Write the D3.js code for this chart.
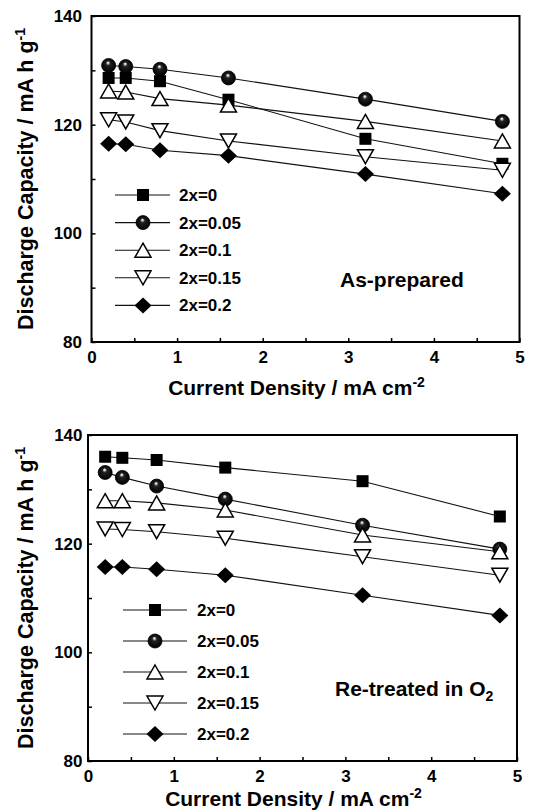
<!DOCTYPE html>
<html>
<head>
<meta charset="utf-8">
<script src="https://cdn.jsdelivr.net/npm/d3@7"></script>
<style>
  html, body { margin: 0; padding: 0; background: #fff; }
  svg { display: block; font-family: "Liberation Sans", Arial, Helvetica, sans-serif; font-weight: bold; }
</style>
</head>
<body>
<svg id="chart" width="536" height="812"></svg>
<script>
// ---------- DATA ----------
const currentDensity = [0.2, 0.4, 0.8, 1.6, 3.2, 4.8];
const seriesNames = ["2x=0", "2x=0.05", "2x=0.1", "2x=0.15", "2x=0.2"];
const seriesSymbols = ["square", "sphere", "triangleUp", "triangleDown", "diamond"];

// As-prepared
const asPrepared_0    = [128.6, 128.6, 128.0, 124.6, 117.4, 112.8];
const asPrepared_005  = [130.9, 130.7, 130.2, 128.6, 124.7, 120.6];
const asPrepared_01   = [126.2, 126.0, 124.8, 123.6, 120.6, 117.0];
const asPrepared_015  = [120.9, 120.5, 118.9, 117.0, 114.1, 111.6];
const asPrepared_02   = [116.5, 116.4, 115.3, 114.3, 110.9, 107.3];

// Re-treated in O2
const retreated_0     = [136.0, 135.8, 135.4, 134.0, 131.5, 125.0];
const retreated_005   = [133.1, 132.2, 130.6, 128.2, 123.4, 119.0];
const retreated_01    = [127.9, 127.9, 127.5, 126.2, 121.6, 118.5];
const retreated_015   = [122.7, 122.6, 122.2, 121.0, 117.6, 114.2];
const retreated_02    = [115.7, 115.7, 115.3, 114.2, 110.5, 106.8];

const xTickValues = [0, 1, 2, 3, 4, 5];
const xMinorTicks = [0.5, 1.5, 2.5, 3.5, 4.5];
const yTickValues = [80, 100, 120, 140];
const yMinorTicks = [90, 110, 130];
const xDomain = [0, 5];
const yDomain = [80, 140];

// ---------- LAYOUT ----------
const svg = d3.select("#chart");
const defs = svg.append("defs");
const grad = defs.append("radialGradient").attr("id", "sphereGrad")
  .attr("cx", "50%").attr("cy", "50%").attr("r", "50%")
  .attr("fx", "45%").attr("fy", "28%");
grad.append("stop").attr("offset", "0%").attr("stop-color", "#ffffff");
grad.append("stop").attr("offset", "12%").attr("stop-color", "#c8c8c8");
grad.append("stop").attr("offset", "32%").attr("stop-color", "#222");
grad.append("stop").attr("offset", "100%").attr("stop-color", "#000");

const panels = [
  {
    left: 91.5, right: 519.5, top: 16, bottom: 342,
    series: [asPrepared_0, asPrepared_005, asPrepared_01, asPrepared_015, asPrepared_02],
    yLabelPad: 9.5,
    legend: { x1: 115, x2: 170, xm: 143, xt: 179, y0: 195, dy: 27.6 },
    note: { x: 340, y: 287, text: "As-prepared", sub: null },
    xTitleY: 395
  },
  {
    left: 88, right: 517, top: 435, bottom: 761,
    series: [retreated_0, retreated_005, retreated_01, retreated_015, retreated_02],
    yLabelPad: 5.5,
    legend: { x1: 123, x2: 187, xm: 155, xt: 197, y0: 610, dy: 31 },
    note: { x: 335, y: 696, text: "Re-treated in O", sub: "2" },
    xTitleY: 806
  }
];

function drawSymbol(g, type, cx, cy) {
  if (type === "square") {
    g.append("rect").attr("x", cx - 6).attr("y", cy - 6).attr("width", 12).attr("height", 12)
      .attr("fill", "#000");
  } else if (type === "sphere") {
    g.append("circle").attr("cx", cx).attr("cy", cy).attr("r", 7)
      .attr("fill", "url(#sphereGrad)").attr("stroke", "#000").attr("stroke-width", 0.8);
  } else if (type === "triangleUp") {
    const w = 8, h = 7;
    g.append("path").attr("d", `M${cx},${cy - h}L${cx + w},${cy + h}L${cx - w},${cy + h}Z`)
      .attr("fill", "#fff").attr("stroke", "#000").attr("stroke-width", 1.5).attr("stroke-linejoin", "miter");
  } else if (type === "triangleDown") {
    const w = 8, h = 7;
    g.append("path").attr("d", `M${cx},${cy + h}L${cx + w},${cy - h}L${cx - w},${cy - h}Z`)
      .attr("fill", "#fff").attr("stroke", "#000").attr("stroke-width", 1.5).attr("stroke-linejoin", "miter");
  } else if (type === "diamond") {
    const w = 8.5, h = 8;
    g.append("path").attr("d", `M${cx},${cy - h}L${cx + w},${cy}L${cx},${cy + h}L${cx - w},${cy}Z`)
      .attr("fill", "#000");
  }
}

panels.forEach(p => {
  const x = d3.scaleLinear().domain(xDomain).range([p.left, p.right]);
  const y = d3.scaleLinear().domain(yDomain).range([p.bottom, p.top]);
  const g = svg.append("g");

  // x axis: labelled ticks
  const xAxis = g.append("g").attr("transform", `translate(0,${p.bottom})`)
    .call(d3.axisBottom(x).tickValues(xTickValues).tickFormat(d3.format("d"))
      .tickSizeInner(-4).tickSizeOuter(0).tickPadding(9));
  xAxis.select(".domain").remove();
  xAxis.selectAll("line").attr("stroke", "#000").attr("stroke-width", 1.5);
  xAxis.selectAll("text").attr("font-size", 17).attr("font-weight", "bold")
    .attr("font-family", "Liberation Sans, Arial, sans-serif").attr("fill", "#000");
  const xMinor = g.append("g").attr("transform", `translate(0,${p.bottom})`)
    .call(d3.axisBottom(x).tickValues(xMinorTicks).tickFormat("").tickSizeInner(-4).tickSizeOuter(0));
  xMinor.select(".domain").remove();
  xMinor.selectAll("line").attr("stroke", "#000").attr("stroke-width", 1.5);

  // y axis
  const yAxis = g.append("g").attr("transform", `translate(${p.left},0)`)
    .call(d3.axisLeft(y).tickValues(yTickValues).tickFormat(d3.format("d"))
      .tickSizeInner(-4).tickSizeOuter(0).tickPadding(p.yLabelPad));
  yAxis.select(".domain").remove();
  yAxis.selectAll("line").attr("stroke", "#000").attr("stroke-width", 1.5);
  yAxis.selectAll("text").attr("font-size", 17).attr("font-weight", "bold")
    .attr("font-family", "Liberation Sans, Arial, sans-serif").attr("fill", "#000");
  const yMinor = g.append("g").attr("transform", `translate(${p.left},0)`)
    .call(d3.axisLeft(y).tickValues(yMinorTicks).tickFormat("").tickSizeInner(-4).tickSizeOuter(0));
  yMinor.select(".domain").remove();
  yMinor.selectAll("line").attr("stroke", "#000").attr("stroke-width", 1.5);

  // frame
  g.append("rect").attr("x", p.left).attr("y", p.top)
    .attr("width", p.right - p.left).attr("height", p.bottom - p.top)
    .attr("fill", "none").attr("stroke", "#000").attr("stroke-width", 2);

  // lines
  const line = d3.line().x((d, i) => x(currentDensity[i])).y(d => y(d));
  p.series.forEach(s => {
    g.append("path").datum(s).attr("d", line)
      .attr("fill", "none").attr("stroke", "#111").attr("stroke-width", 1.1);
  });
  // markers
  p.series.forEach((s, k) => {
    const mg = g.append("g");
    s.forEach((v, i) => drawSymbol(mg, seriesSymbols[k], x(currentDensity[i]), y(v)));
  });

  // legend
  const L = p.legend;
  seriesNames.forEach((name, k) => {
    const ly = L.y0 + k * L.dy;
    const lg = g.append("g");
    lg.append("line").attr("x1", L.x1).attr("x2", L.x2).attr("y1", ly).attr("y2", ly)
      .attr("stroke", "#111").attr("stroke-width", 1.1);
    drawSymbol(lg, seriesSymbols[k], L.xm, ly);
    lg.append("text").attr("x", L.xt).attr("y", ly + 6).attr("font-size", 17)
      .attr("fill", "#000").text(name);
  });

  // note
  const nt = g.append("text").attr("x", p.note.x).attr("y", p.note.y)
    .attr("font-size", 21).attr("fill", "#000").text(p.note.text);
  if (p.note.sub) {
    nt.append("tspan").attr("dy", 5).attr("font-size", 14).text(p.note.sub);
  }

  // x title
  const xt = g.append("text").attr("x", (p.left + p.right) / 2 - 9).attr("y", p.xTitleY)
    .attr("text-anchor", "middle").attr("font-size", 21).attr("fill", "#000");
  xt.append("tspan").text("Current Density / mA cm");
  xt.append("tspan").attr("dy", -8).attr("font-size", 14).text("-2");

  // y title
  const cy = (p.top + p.bottom) / 2;
  const yt = g.append("text").attr("transform", `translate(33,${cy}) rotate(-90)`)
    .attr("text-anchor", "middle").attr("font-size", 21.5).attr("fill", "#000");
  yt.append("tspan").text("Discharge Capacity / mA h g");
  yt.append("tspan").attr("dy", -8).attr("font-size", 14).text("-1");
});
</script>
</body>
</html>
